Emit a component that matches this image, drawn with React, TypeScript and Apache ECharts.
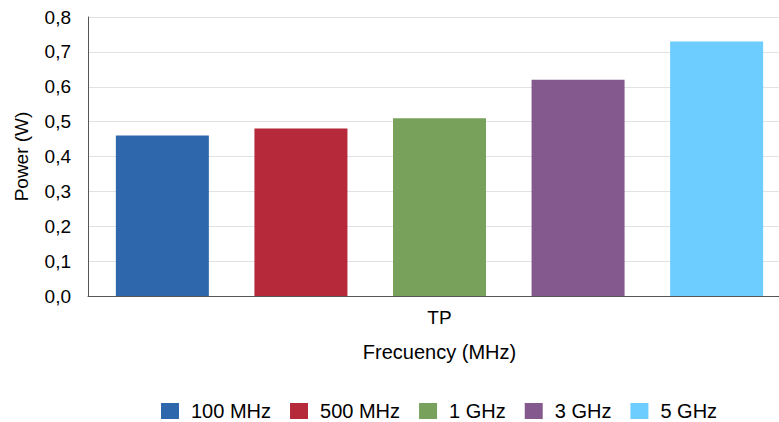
import React, { useEffect, useRef } from "react";
import * as echarts from "echarts";

const categories = ["TP"];
const seriesNames = ["100 MHz", "500 MHz", "1 GHz", "3 GHz", "5 GHz"];
const seriesValues = [0.46, 0.48, 0.51, 0.62, 0.73];
const seriesColors = ["#2E67AB", "#B5293A", "#78A25C", "#845A8E", "#6DCDFF"];

export default function App() {
  const ref = useRef<HTMLDivElement>(null);
  useEffect(() => {
    if (!ref.current) return;
    const chart = echarts.init(ref.current, undefined, { renderer: "svg" });
    const font = "Liberation Sans, Arial, sans-serif";
    chart.setOption({
      animation: false,
      backgroundColor: "#ffffff",
      textStyle: { fontFamily: font },
      grid: { left: 88, right: 0, top: 17, bottom: 126, containLabel: false },
      legend: {
        top: 401,
        left: 161,
        padding: 0,
        itemWidth: 18,
        itemHeight: 16,
        itemGap: 19,
        icon: "rect",
        textStyle: { fontSize: 20, color: "#000", fontFamily: font, padding: [0, 0, 0, 7] },
        data: seriesNames,
      },
      xAxis: {
        type: "category",
        data: categories,
        name: "Frecuency (MHz)",
        nameLocation: "middle",
        nameGap: 46,
        nameTextStyle: { fontSize: 20, color: "#000", fontFamily: font },
        axisLine: { lineStyle: { color: "#555", width: 1 } },
        axisTick: { show: false },
        axisLabel: { fontSize: 19, color: "#000", margin: 12, fontFamily: font },
      },
      yAxis: {
        type: "value",
        min: 0,
        max: 0.8,
        interval: 0.1,
        name: "Power (W)",
        nameLocation: "middle",
        nameGap: 57,
        nameRotate: 90,
        nameTextStyle: { fontSize: 19, color: "#000", fontFamily: font },
        axisLine: { show: true, lineStyle: { color: "#555", width: 1 } },
        axisTick: { show: false },
        splitLine: { lineStyle: { color: "#e2e2e2", width: 1 } },
        axisLabel: {
          fontSize: 19,
          color: "#000",
          margin: 17,
          fontFamily: font,
          formatter: (v: number) => v.toFixed(1).replace(".", ","),
        },
      },
      series: seriesNames.map((name, i) => ({
        name,
        type: "bar",
        data: [seriesValues[i]],
        barWidth: 93,
        barGap: "49%",
        itemStyle: { color: seriesColors[i] },
      })),
    });
    return () => chart.dispose();
  }, []);
  return (
    <div style={{ width: 779, height: 422, position: "absolute", left: 0, top: 0, overflow: "hidden", background: "#fff" }}>
      <div ref={ref} style={{ width: 791, height: 422, position: "absolute", left: 0, top: 0 }} />
    </div>
  );
}
